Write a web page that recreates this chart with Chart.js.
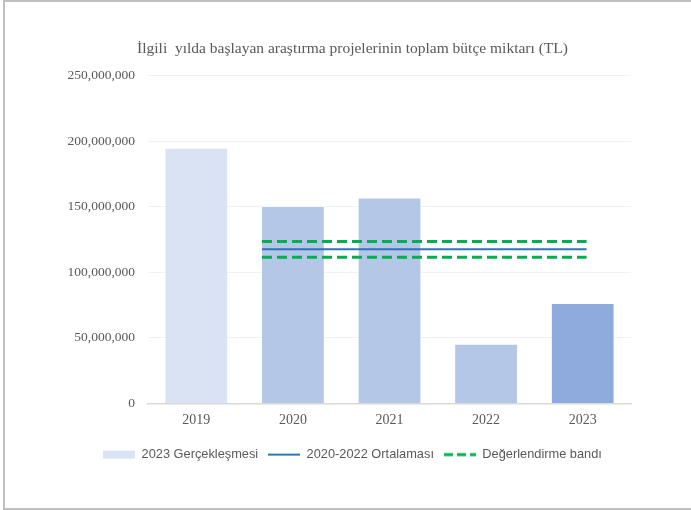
<!DOCTYPE html>
<html>
<head>
<meta charset="utf-8">
<script src="https://cdn.jsdelivr.net/npm/chart.js@4"></script>
<style>
  html, body { margin: 0; padding: 0; background: #fff; }
  #wrap { position: relative; width: 691px; height: 510px; overflow: hidden; }
  #frame { position: absolute; left: 3px; top: 0; width: 700px; height: 506px; border: 2px solid #BFBFBF; pointer-events: none; }
</style>
</head>
<body>
<div id="wrap">
  <canvas id="c" width="691" height="510"></canvas>
  <div id="frame"></div>
</div>
<script>
// budget of projects started per year (TL)
const years = ['2019', '2020', '2021', '2022', '2023'];
const budgets = [195000000, 150500000, 157000000, 45500000, 76500000];
const barColors = ['#DAE3F3', '#B4C7E7', '#B4C7E7', '#B4C7E7', '#8FAADC'];

const average = 117500000;        // 2020-2022 ortalaması
const bandUpper = 123500000;
const bandLower = 111500000;
const bandSpan = [0.68, 4.04];    // x range of the lines, in category units

const yTicks = [0, 50000000, 100000000, 150000000, 200000000, 250000000];

const grey = '#595959';
const serif = "'Liberation Serif', 'Times New Roman', serif";
const sans = "'Liberation Sans', Arial, sans-serif";

// small canvases used as legend swatches
function swatch(draw) {
  const cv = document.createElement('canvas');
  cv.width = 32; cv.height = 10;
  draw(cv.getContext('2d'));
  return cv;
}
const swBar = swatch(g => { g.fillStyle = '#DAE3F3'; g.fillRect(0, 1, 32, 8); });
const swAvg = swatch(g => { g.strokeStyle = '#2E75B6'; g.lineWidth = 2; g.beginPath(); g.moveTo(0, 5); g.lineTo(32, 5); g.stroke(); });
const swBand = swatch(g => {
  g.strokeStyle = '#00B050'; g.lineWidth = 3; g.setLineDash([9, 4]);
  g.beginPath(); g.moveTo(0, 5); g.lineTo(32, 5); g.stroke();
});

const line = (y) => bandSpan.map(x => ({ x, y }));

new Chart(document.getElementById('c').getContext('2d'), {
  type: 'bar',
  data: {
    labels: years,
    datasets: [
      { label: '2023 Gerçekleşmesi', data: budgets, backgroundColor: barColors, grouped: false,
        borderColor: 'rgba(255,255,255,0.45)', borderWidth: 1, barPercentage: 0.66, categoryPercentage: 1, order: 2 },
      { type: 'line', label: '2020-2022 Ortalaması', data: line(average), xAxisID: 'x2',
        borderColor: '#2E75B6', borderWidth: 2, pointRadius: 0, order: 1 },
      { type: 'line', label: 'Değerlendirme bandı', data: line(bandUpper), xAxisID: 'x2',
        borderColor: '#00B050', borderWidth: 3, borderDash: [10, 5], pointRadius: 0, order: 0 },
      { type: 'line', label: 'band-lower', data: line(bandLower), xAxisID: 'x2',
        borderColor: '#00B050', borderWidth: 3, borderDash: [10, 5], pointRadius: 0, order: 0 }
    ]
  },
  options: {
    responsive: false,
    animation: false,
    layout: { padding: { left: 14, right: 0, top: 0, bottom: 39 } },
    plugins: {
      title: {
        display: true,
        text: 'İlgili  yılda başlayan araştırma projelerinin toplam bütçe miktarı (TL)',
        color: grey,
        font: { family: serif, size: 15.5, weight: 'normal' },
        padding: { top: 40, bottom: 17 }
      },
      legend: {
        position: 'bottom',
        labels: {
          usePointStyle: true,
          pointStyleWidth: 32,
          boxHeight: 10,
          padding: 10,
          color: grey,
          font: { family: sans, size: 12.8 },
          generateLabels: () => [
            { text: '2023 Gerçekleşmesi', pointStyle: swBar, fontColor: grey, datasetIndex: 0, hidden: false, lineWidth: 0 },
            { text: '2020-2022 Ortalaması', pointStyle: swAvg, fontColor: grey, datasetIndex: 1, hidden: false, lineWidth: 0 },
            { text: 'Değerlendirme bandı', pointStyle: swBand, fontColor: grey, datasetIndex: 2, hidden: false, lineWidth: 0 }
          ]
        }
      },
      tooltip: { enabled: false }
    },
    scales: {
      x: {
        grid: { display: false, drawTicks: false },
        border: { display: true, color: '#D9D9D9', width: 1.5 },
        ticks: { color: grey, padding: 9, font: { family: serif, size: 14 } }
      },
      x2: { type: 'linear', display: false, offset: false, min: -0.5, max: 4.5 },
      y: {
        min: 0, max: 250000000,
        afterBuildTicks: s => { s.ticks = yTicks.map(v => ({ value: v })); },
        afterFit: s => { s.width = 134; },
        grid: { color: '#EEF1F7', lineWidth: 1, drawTicks: false },
        border: { display: false },
        ticks: {
          color: grey, padding: 13,
          font: { family: serif, size: 13.5 },
          callback: v => v.toLocaleString('en-US')
        }
      },
      // empty right-hand axis that only reserves the blank strip right of the plot
      yRight: {
        position: 'right', display: true,
        grid: { display: false, drawTicks: false }, border: { display: false },
        ticks: { display: false },
        afterFit: s => { s.width = 60; }
      }
    }
  }
});
</script>
</body>
</html>
